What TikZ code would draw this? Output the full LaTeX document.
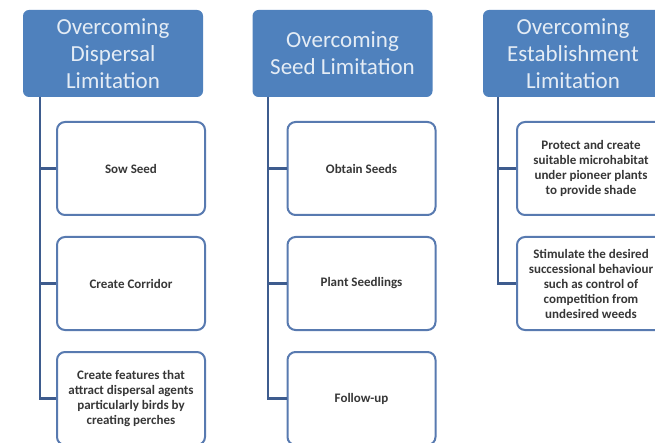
\documentclass[tikz,border=0pt]{standalone}
\usepackage{fontspec}
\setmainfont{Carlito}
\definecolor{headblue}{RGB}{79,129,189}
\definecolor{linkblue}{RGB}{62,92,142}
\definecolor{leafedge}{RGB}{88,122,176}
\definecolor{leaftext}{RGB}{55,55,55}
\tikzset{
  head/.style={fill=headblue, rounded corners=6pt, minimum width=180pt, minimum height=87pt,
    align=center, text=white!85!headblue, font=\fontsize{23}{27}\selectfont},
  leaf/.style={draw=leafedge, line width=2pt, fill=white, rounded corners=8pt,
    minimum width=148pt, minimum height=93pt, align=center, text=leaftext,
    font=\fontsize{13}{15}\selectfont\bfseries},
  link/.style={linkblue, line width=2.5pt}
}

\begin{document}
\begin{tikzpicture}[x=1pt,y=-1pt]
\useasboundingbox (0,0) rectangle (655,443);
\clip (0,0) rectangle (655,443);
%
\node[head] (disp) at (113,53.5) {Overcoming\\Dispersal\\Limitation};
\node[head] (seed) at (342.5,53.5) {Overcoming\\Seed Limitation};
\node[head] (estab) at (573,53.5) {Overcoming\\Establishment\\Limitation};
%
\coordinate (dispbar) at (40,97);
\coordinate (seedbar) at (268,97);
\coordinate (estabbar) at (498,97);
%
\node[leaf] (sow) at (131,168.5) {Sow Seed};
\node[leaf] (corridor) at (131,283.5) {Create Corridor};
\node[leaf] (perches) at (131,398.5) {Create features that\\attract dispersal agents\\particularly  birds by\\creating perches};
%
\node[leaf] (obtain) at (361.5,168.5) {Obtain Seeds};
\node[leaf] (plant) at (361.5,283.5) {Plant Seedlings};
\node[leaf] (follow) at (361.5,398.5) {Follow-up};
%
\node[leaf] (shade) at (591,168.5) {Protect and create\\suitable microhabitat\\under pioneer plants\\to provide shade};
\node[leaf] (weeds) at (591,283.5) {Stimulate the desired\\successional behaviour\\such as control of\\competition from\\undesired weeds};
%
\foreach \c in {sow,corridor,perches} {
    \draw[link] (dispbar) |- (\c.west);
}
\foreach \c in {obtain,plant,follow} {
    \draw[link] (seedbar) |- (\c.west);
}
\foreach \c in {shade,weeds} {
    \draw[link] (estabbar) |- (\c.west);
}
\end{tikzpicture}
\end{document}
